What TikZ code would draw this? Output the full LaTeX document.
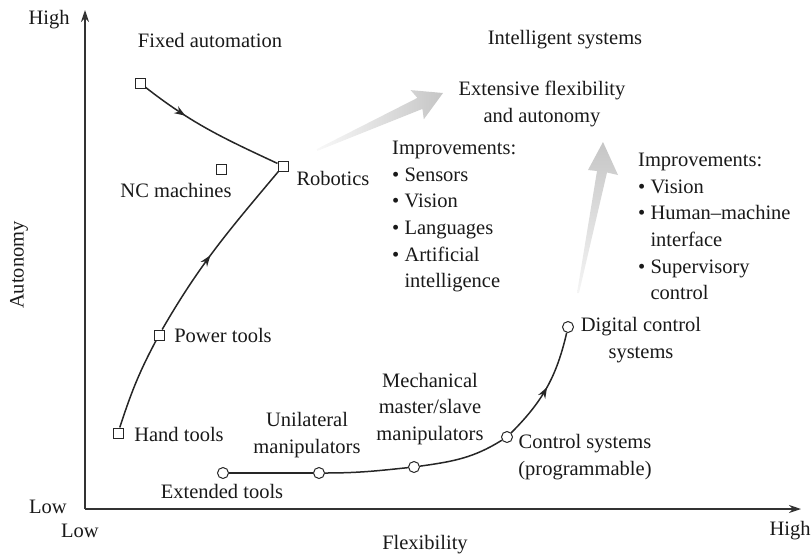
\documentclass[tikz,border=0pt]{standalone}
\usepackage{fontspec}
\setmainfont{Liberation Serif}
\usetikzlibrary{arrows.meta,decorations.markings}
\begin{document}
\begin{tikzpicture}[x=1pt,y=-1pt,
  every node/.style={font=\fontsize{20.5}{26.6}\selectfont, inner sep=0pt, text=black!90},
  sq/.style={draw=black!85, rectangle, minimum size=10pt, line width=1pt, fill=white},
  ci/.style={draw=black!85, circle, minimum size=11pt, line width=1pt, fill=white},
  curve/.style={line width=1.5pt, draw=black!85},
  midarrow/.style={postaction={decorate}, decoration={markings, mark=at position #1 with {\arrow{Stealth[length=11pt,width=8pt]}}}},
  axis/.style={line width=1.4pt, draw=black!80, -{Stealth[length=12pt,width=8pt]}},
  lbl/.style={align=center},
  blk/.style={align=left, anchor=north west},
  ]
\useasboundingbox (0,0) rectangle (812,555);

% axes
\coordinate (o) at (85,509);
\coordinate (ytip) at (85,10);
\coordinate (xtip) at (801,509);
\draw[axis] (o) -- (ytip);
\draw[axis] (o) -- (xtip);

\node (hightop) at (49,20) {High};
\node (lowy) at (48,507) {Low};
\node (lowx) at (80,531) {Low};
\node (highx) at (790,531) {High};
\node (flex) at (425,545) {Flexibility};
\node[rotate=90] (auton) at (19,265) {Autonomy};

% gray arrows
\shade[left color=gray!5, right color=gray!45]
  (316.6,149.1) -- (417.4,97.9) -- (410.6,90.1) -- (443,93) -- (423.8,119.3) -- (422.4,108.9) -- (317.4,150.9) -- cycle;
\shade[bottom color=gray!8, top color=gray!45]
  (577,293) -- (597,171) -- (588,170) -- (603,142) -- (618,175) -- (607,172.5) -- (579,293) -- cycle;

% square markers
\node[sq] (fixed) at (140,83) {};
\node[sq] (nc) at (221,169) {};
\node[sq] (robot) at (283,166) {};
\node[sq] (power) at (159,335) {};
\node[sq] (hand) at (118,433) {};

% circle markers
\node[ci] (ext) at (223,473) {};
\node[ci] (uni) at (319,473) {};
\node[ci] (mech) at (414,467) {};
\node[ci] (ctrl) at (507,437) {};
\node[ci] (dig) at (568,327) {};

% curves
\draw[curve, midarrow=0.32] (fixed) to[out=-38, in=155] (robot);
\draw[curve] (hand) to[out=72, in=-118] (power);
\draw[curve, midarrow=0.45] (power) to[out=60, in=-130] (robot);
\draw[curve] (ext) -- (uni);
\draw[curve] (uni) to[out=0, in=-174] (mech);
\draw[curve] (mech) to[out=8, in=-148] (ctrl);
\draw[curve, midarrow=0.5] (ctrl) to[out=45, in=-103] (dig);

% labels
\node (tfixed) at (210,40) {Fixed automation};
\node (tintel) at (565,40) {Intelligent systems};
\node[lbl] (text) at (542,104) {Extensive flexibility\\and autonomy};
\node (tnc) at (176,190) {NC machines};
\node (trobot) at (333,178) {Robotics};
\node (tpower) at (223,335) {Power tools};
\node (thand) at (179,434) {Hand tools};
\node (text2) at (222,491) {Extended tools};
\node[lbl] (tuni) at (307,435) {Unilateral\\manipulators};
\node[lbl] (tmech) at (430,409) {Mechanical\\master/slave\\manipulators};
\node[lbl] (tctrl) at (585,457) {Control systems\\(programmable)};
\node[lbl] (tdig) at (641,340) {Digital control\\systems};

\node[blk] (imp1) at (392,141) {Improvements:\\\textbullet\ Sensors\\\textbullet\ Vision\\\textbullet\ Languages\\\textbullet\ Artificial\\\phantom{\textbullet\ }intelligence};
\node[blk] (imp2) at (638,153) {Improvements:\\\textbullet\ Vision\\\textbullet\ Human--machine\\\phantom{\textbullet\ }interface\\\textbullet\ Supervisory\\\phantom{\textbullet\ }control};
\end{tikzpicture}
\end{document}
